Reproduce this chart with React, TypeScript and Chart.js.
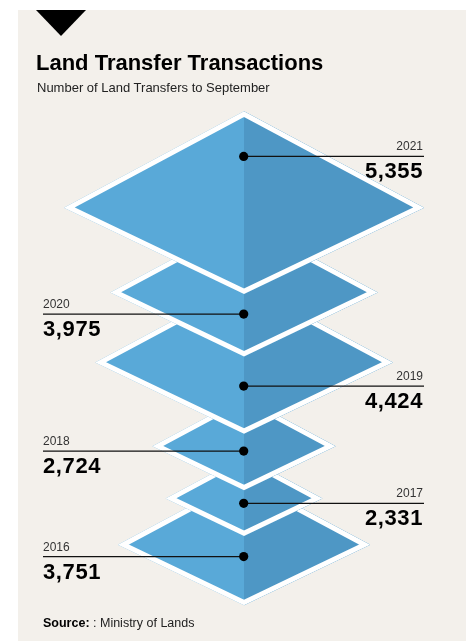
import React, { useEffect, useRef } from "react";
import { Chart, registerables } from "chart.js";

Chart.register(...registerables);

// ---- Data ----
const years = ["2021", "2020", "2019", "2018", "2017", "2016"];
const transfers = [5355, 3975, 4424, 2724, 2331, 3751];

// ---- Layout (vertical slots on the y scale, label sides) ----
const diamondCenterY = [206, 292, 363, 448, 501, 548];
const labelLineY = [154, 314, 387, 453, 506, 560];
const labelSide = ["right", "left", "right", "left", "right", "left"];

// ---- Styles ----
const X_RANGE = 6590;
const TOP_RATIO = 0.535;
const BOTTOM_RATIO = 0.48;
const LIGHT_BLUE = "#59a9d8";
const DARK_BLUE = "#4e97c5";
const PANEL_BG = "#f3f0eb";
const FONT = "'Liberation Sans', Arial, Helvetica, sans-serif";
const LABEL_LEFT_X = 43;
const LABEL_RIGHT_X = 424;

const fmt = new Intl.NumberFormat("en-US");

const diamondPlugin = {
  id: "diamonds",
  beforeDatasetsDraw(chart: any) {
    const { ctx } = chart;
    const x = chart.scales.x;
    const y = chart.scales.y;
    const cx = Math.round(x.getPixelForValue(0));

    // diamonds, bottom-most first so 2021 ends on top
    for (let i = transfers.length - 1; i >= 0; i--) {
      const hw = x.getPixelForValue(transfers[i]) - x.getPixelForValue(0);
      const cy = y.getPixelForValue(diamondCenterY[i]);
      const top = cy - hw * TOP_RATIO;
      const bottom = cy + hw * BOTTOM_RATIO;
      const path = () => {
        ctx.beginPath();
        ctx.moveTo(cx, top);
        ctx.lineTo(cx + hw, cy);
        ctx.lineTo(cx, bottom);
        ctx.lineTo(cx - hw, cy);
        ctx.closePath();
      };
      ctx.save();
      path();
      ctx.clip();
      ctx.fillStyle = LIGHT_BLUE;
      ctx.fillRect(cx - hw - 2, top - 2, 2 * hw + 4, bottom - top + 4);
      ctx.fillStyle = DARK_BLUE;
      ctx.fillRect(cx, top - 2, hw + 2, bottom - top + 4);
      path();
      ctx.lineWidth = 10;
      ctx.strokeStyle = "#ffffff";
      ctx.lineJoin = "miter";
      ctx.miterLimit = 20;
      ctx.stroke();
      ctx.restore();
    }

    // leader lines and labels
    for (let i = 0; i < transfers.length; i++) {
      const ly = y.getPixelForValue(labelLineY[i]);
      const right = labelSide[i] === "right";
      ctx.save();
      ctx.strokeStyle = "#111111";
      ctx.lineWidth = 1.3;
      ctx.beginPath();
      if (right) {
        ctx.moveTo(cx, ly);
        ctx.lineTo(LABEL_RIGHT_X, ly);
      } else {
        ctx.moveTo(LABEL_LEFT_X, ly);
        ctx.lineTo(cx, ly);
      }
      ctx.stroke();

      ctx.textBaseline = "alphabetic";
      ctx.textAlign = right ? "right" : "left";
      const tx = right ? LABEL_RIGHT_X - 1 : LABEL_LEFT_X;
      ctx.fillStyle = "#333333";
      ctx.font = `12px ${FONT}`;
      ctx.fillText(years[i], tx, ly - 6);
      ctx.fillStyle = "#000000";
      ctx.font = `bold 22px ${FONT}`;
      (ctx as any).letterSpacing = "0.6px";
      ctx.fillText(fmt.format(transfers[i]), tx, ly + 22);
      (ctx as any).letterSpacing = "0px";
      ctx.restore();
    }
  },
};

export default function App() {
  const canvasRef = useRef<HTMLCanvasElement | null>(null);

  useEffect(() => {
    const canvas = canvasRef.current;
    if (!canvas) return;
    const chart = new Chart(canvas, {
      type: "scatter",
      data: {
        datasets: [
          {
            label: "Land transfers",
            data: transfers.map((_, i) => ({ x: 0, y: labelLineY[i] })),
            pointRadius: 4.6,
            pointBackgroundColor: "#000000",
            pointBorderWidth: 0,
            pointBorderColor: "#000000",
          },
        ],
      },
      options: {
        animation: false,
        responsive: false,
        events: [],
        layout: { padding: { left: 22, right: 4, top: 0, bottom: 0 } },
        scales: {
          x: { type: "linear", min: -X_RANGE, max: X_RANGE, display: false },
          y: { type: "linear", min: 0, max: 641, reverse: true, display: false },
        },
        plugins: {
          legend: { display: false },
          tooltip: { enabled: false },
          title: { display: false },
        },
      },
      plugins: [diamondPlugin],
    });
    return () => chart.destroy();
  }, []);

  return (
    <div
      style={{
        position: "absolute",
        left: 0,
        top: 0,
        width: 470,
        height: 641,
        background: "#ffffff",
        overflow: "hidden",
        fontFamily: FONT,
      }}
    >
      <div
        style={{
          position: "absolute",
          left: 18,
          top: 10,
          width: 448,
          height: 631,
          background: PANEL_BG,
        }}
      />
      <div
        style={{
          position: "absolute",
          left: 36,
          top: 10,
          width: 0,
          height: 0,
          borderLeft: "25px solid transparent",
          borderRight: "25px solid transparent",
          borderTop: "26px solid #000",
        }}
      />
      <canvas
        ref={canvasRef}
        width={470}
        height={641}
        style={{ position: "absolute", left: 0, top: 0, width: 470, height: 641, display: "block" }}
      />
      <div
        style={{
          position: "absolute",
          left: 36,
          top: 52.4,
          fontSize: 22,
          lineHeight: "22px",
          fontWeight: 700,
          color: "#000",
          whiteSpace: "nowrap",
        }}
      >
        Land Transfer Transactions
      </div>
      <div
        style={{
          position: "absolute",
          left: 37,
          top: 80.7,
          fontSize: 13,
          lineHeight: "13px",
          color: "#222",
          whiteSpace: "nowrap",
        }}
      >
        Number of Land Transfers to September
      </div>
      <div
        style={{
          position: "absolute",
          left: 43,
          top: 616.6,
          fontSize: 12.5,
          lineHeight: "12.5px",
          color: "#222",
          whiteSpace: "nowrap",
        }}
      >
        <span style={{ fontWeight: 700, color: "#000" }}>Source:</span> : Ministry of Lands
      </div>
    </div>
  );
}
